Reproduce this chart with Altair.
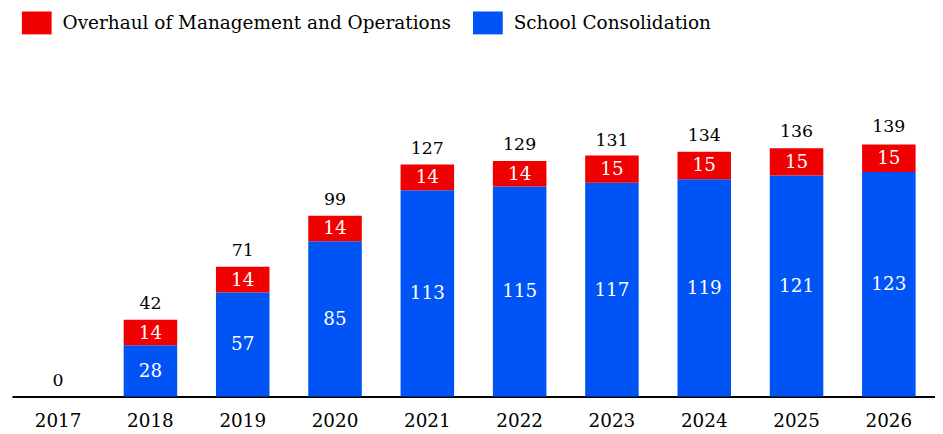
import altair as alt
import pandas as pd

years = ["2017", "2018", "2019", "2020", "2021", "2022", "2023", "2024", "2025", "2026"]
consolidation = [0, 28, 57, 85, 113, 115, 117, 119, 121, 123]
overhaul = [0, 14, 14, 14, 14, 14, 15, 15, 15, 15]
totals = [0, 42, 71, 99, 127, 129, 131, 134, 136, 139]
series_names = ["Overhaul of Management and Operations", "School Consolidation"]
series_colors = ["#f00000", "#0053f4"]

FONT = "DejaVu Serif"

rows = []
for y, c, o in zip(years, consolidation, overhaul):
    rows.append({"year": y, "series": "School Consolidation", "value": c, "order": 1})
    rows.append({"year": y, "series": "Overhaul of Management and Operations", "value": o, "order": 2})
df = pd.DataFrame(rows)
tot_df = pd.DataFrame({"year": years, "total": totals})

xenc = alt.X("year:N", sort=years, title=None,
             scale=alt.Scale(paddingInner=0.42, paddingOuter=0.21),
             axis=alt.Axis(labelAngle=0, ticks=False, domainColor="#000", domainWidth=2,
                           labelFont=FONT, labelFontSize=18.5, labelColor="#000", labelPadding=15))
yscale = alt.Scale(domain=[0, 139], nice=False, zero=True)

bars = alt.Chart(df).mark_bar().encode(
    x=xenc,
    y=alt.Y("value:Q", stack="zero", scale=yscale, axis=None),
    color=alt.Color("series:N", sort=series_names,
                    scale=alt.Scale(domain=series_names, range=series_colors),
                    legend=alt.Legend(title=None, orient="none", legendX=10, legendY=-136,
                                      direction="horizontal",
                                      symbolType="M-1,-0.77H1V0.77H-1Z",
                                      symbolSize=900, symbolStrokeWidth=0, labelFont=FONT,
                                      labelFontSize=18.6, labelColor="#000", columnPadding=22,
                                      labelOffset=11, labelLimit=500)),
    order=alt.Order("order:Q"),
).transform_filter("datum.value > 0")

inner = alt.Chart(df).transform_filter("datum.value > 0").transform_stack(
    stack="value", groupby=["year"], as_=["v0", "v1"], sort=[alt.SortField("order")]
).transform_calculate(mid="(datum.v0 + datum.v1) / 2").mark_text(
    font=FONT, fontSize=18.5, color="white", baseline="middle"
).encode(
    x=alt.X("year:N", sort=years),
    y=alt.Y("mid:Q", scale=yscale),
    text="value:Q",
)

tot = alt.Chart(tot_df).mark_text(
    font=FONT, fontSize=17.5, color="#000", baseline="bottom", dy=-7
).encode(
    x=alt.X("year:N", sort=years),
    y=alt.Y("total:Q", scale=yscale),
    text="total:Q",
)

chart = alt.layer(bars, inner, tot).properties(
    width=931, height=256,
    autosize=alt.AutoSizeParams(type="none"),
    padding={"left": 4, "top": 134, "right": 0, "bottom": 36},
).configure_view(stroke=None)

chart.save("out.html", embed_options={"renderer": "svg", "actions": False})
